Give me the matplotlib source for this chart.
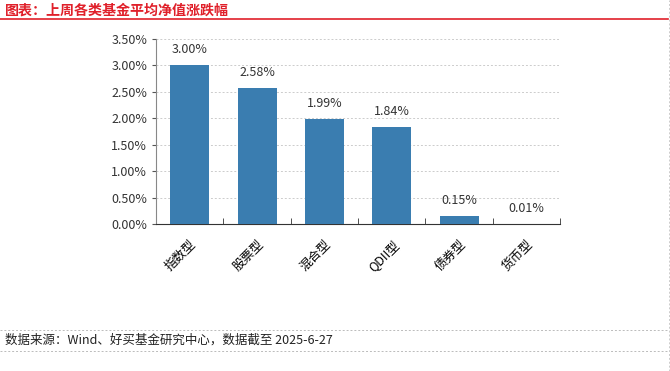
import matplotlib
matplotlib.use("Agg")
import matplotlib.pyplot as plt
from matplotlib.lines import Line2D
from matplotlib.ticker import FuncFormatter, FixedLocator

plt.rcParams['font.family'] = ['Noto Sans CJK SC', 'DejaVu Sans']

# 数据
categories = ["指数型", "股票型", "混合型", "QDII型", "债券型", "货币型"]
values = [3.00, 2.58, 1.99, 1.84, 0.15, 0.01]

BAR_COLOR = "#3a7db0"
RED = "#e0202a"

fig = plt.figure(figsize=(6.7, 3.71), dpi=100)
ax = fig.add_axes([0.233, 0.396, 0.603, 0.499])

x = list(range(len(categories)))
bars = ax.bar(x, values, width=0.58, color=BAR_COLOR, zorder=3)
for b, v in zip(bars, values):
    ax.text(b.get_x() + b.get_width() / 2, v + 0.17, f"{v:.2f}%",
            ha="center", va="bottom", fontsize=9, color="#333333")

ax.set_xlim(-0.5, len(categories) - 0.5)
ax.set_ylim(0, 3.5)
ax.set_yticks([i * 0.5 for i in range(8)])
ax.yaxis.set_major_formatter(FuncFormatter(lambda v, p: f"{v:.2f}%"))
ax.tick_params(axis="y", labelsize=9, length=3, colors="#555555", labelcolor="#333333")
ax.grid(axis="y", linestyle=(0, (2, 2)), color="#cccccc", linewidth=0.7, zorder=0)

ax.set_xticks(x)
ax.set_xticklabels(categories, rotation=45, ha="right", rotation_mode="anchor", fontsize=9)
ax.tick_params(axis="x", length=0, pad=10)
ax.xaxis.set_minor_locator(FixedLocator([i + 0.5 for i in range(len(categories))]))
ax.tick_params(axis="x", which="minor", length=4, direction="in", color="#333333")

for s in ["top", "right"]:
    ax.spines[s].set_visible(False)
ax.spines["left"].set_color("#888888")
ax.spines["bottom"].set_color("#333333")

# 标题与注释
fig.text(0.008, 0.972, "图表：上周各类基金平均净值涨跌幅", color=RED, fontsize=10.1,
         fontweight="bold", va="center", ha="left")
fig.add_artist(Line2D([0, 0.997], [0.948, 0.948], color=RED, linewidth=1.2))
fig.add_artist(Line2D([0, 0.997], [0.11, 0.11], color="#bbbbbb", linewidth=0.7, linestyle=(0, (2, 2))))
fig.add_artist(Line2D([0, 0.997], [0.055, 0.055], color="#bbbbbb", linewidth=0.7, linestyle=(0, (2, 2))))
fig.add_artist(Line2D([0.998, 0.998], [0, 1], color="#cccccc", linewidth=0.7, linestyle=(0, (2, 2))))
fig.text(0.008, 0.083, "数据来源：Wind、好买基金研究中心，数据截至 2025-6-27", fontsize=9,
         va="center", ha="left", color="#222222")

fig.savefig("out.png", dpi=100)
